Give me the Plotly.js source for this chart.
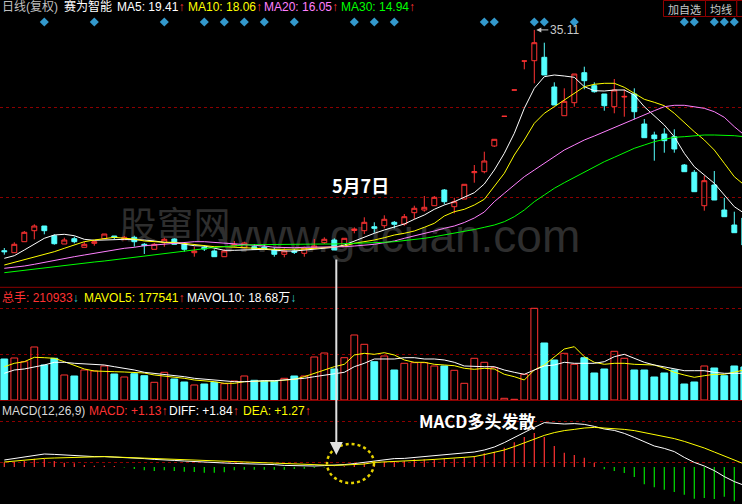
<!DOCTYPE html>
<html>
<head>
<meta charset="utf-8">
<script src="https://cdn.plot.ly/plotly-3.0.1.min.js"></script>
<style>
  html, body { margin: 0; padding: 0; background: #000; }
  #chart { width: 742px; height: 504px; }
</style>
</head>
<body>
<div id="chart"></div>
<script>
// 日K（复权），逐日：开、高、低、收
const opens = [13.03, 12.83, 13.93, 15.03, 15.5, 14.53, 13.7, 14.23, 13.37, 13.77,
  14.23, 14.5, 14.13, 14.37, 13.67, 13.17, 13.83, 14.2, 13.67, 12.83,
  13.37, 13.0, 12.43, 13.5, 13.33, 13.43, 13.4, 13.1, 12.67, 13.0,
  12.77, 13.3, 13.83, 14.1, 13.43, 15.05, 15.03, 15.43, 15.53, 15.87,
  15.7, 16.83, 17.1, 17.53, 19.1, 17.43, 18.2, 20.83, 20.93, 23.5,
  26.47, 29.1, 32.0, 32.03, 32.37, 29.4, 26.53, 27.83, 30.83, 29.53,
  28.7, 27.43, 28.4, 28.7, 25.7, 24.6, 24.7, 24.43, 21.6, 20.87,
  17.53, 19.6, 17.1, 15.6, 16.3];
const highs = [13.3, 13.87, 15.0, 15.67, 15.5, 14.67, 14.33, 14.43, 13.93, 14.0,
  14.7, 14.5, 14.5, 14.53, 13.8, 13.8, 14.33, 14.27, 13.77, 13.43,
  13.6, 13.17, 13.17, 14.0, 13.93, 13.7, 13.67, 13.37, 13.27, 13.2,
  13.43, 14.2, 14.37, 14.27, 14.27, 15.37, 16.37, 15.87, 16.57, 16.0,
  16.7, 17.53, 18.5, 18.5, 19.2, 18.33, 19.67, 21.6, 22.93, 24.2,
  26.47, 29.1, 32.0, 35.11, 33.83, 29.87, 29.27, 30.7, 31.43, 29.87,
  28.7, 30.2, 29.17, 29.27, 26.2, 24.93, 25.27, 25.17, 21.7, 21.1,
  20.5, 21.0, 18.33, 16.93, 16.5];
const lows = [12.63, 12.83, 13.93, 14.17, 14.67, 13.63, 13.7, 13.77, 13.37, 13.53,
  14.23, 14.13, 14.13, 13.43, 12.7, 13.17, 13.43, 13.67, 12.93, 12.43,
  13.0, 12.43, 12.43, 13.4, 13.27, 13.1, 13.2, 12.43, 12.37, 12.7,
  12.43, 13.27, 13.7, 13.1, 13.43, 14.77, 14.7, 14.83, 15.27, 15.27,
  15.53, 16.2, 16.93, 17.53, 17.67, 16.77, 18.2, 19.83, 20.77, 23.4,
  26.47, 29.1, 31.17, 29.77, 30.6, 27.6, 26.53, 27.43, 29.17, 28.83,
  27.03, 26.77, 26.43, 26.17, 24.33, 22.03, 22.83, 22.83, 20.93, 18.93,
  17.03, 18.1, 16.43, 14.83, 13.3];
const closes = [12.93, 13.67, 14.87, 15.5, 15.03, 13.73, 14.1, 13.93, 13.67, 13.93,
  14.7, 14.37, 14.37, 13.93, 13.53, 13.67, 14.17, 13.67, 13.17, 13.0,
  13.2, 12.43, 13.0, 13.65, 13.8, 13.17, 13.2, 12.67, 13.0, 12.87,
  13.3, 13.5, 14.17, 13.1, 14.27, 15.2, 15.87, 15.27, 16.17, 15.67,
  16.43, 17.27, 17.37, 18.37, 17.93, 17.93, 19.67, 20.93, 22.0, 24.17,
  26.47, 29.1, 32.0, 33.83, 30.6, 27.6, 27.97, 30.7, 30.03, 28.93,
  27.53, 29.1, 28.46, 26.93, 24.33, 24.23, 24.03, 23.2, 20.93, 18.93,
  20.03, 18.1, 16.43, 14.83, 13.6];

// 均线
const ma5 = [12.27, 12.53, 13.1, 13.67, 14.27, 14.6, 14.67, 14.53, 14.17, 14.07,
  14.07, 14.13, 14.17, 14.17, 14.1, 14.0, 13.87, 13.83, 13.67, 13.53,
  13.5, 13.27, 13.07, 13.07, 13.1, 13.1, 13.17, 13.1, 13.0, 13.0,
  13.1, 13.17, 13.27, 13.37, 13.6, 14.0, 14.43, 14.77, 15.1, 15.37,
  15.7, 16.17, 16.6, 17.17, 17.6, 17.93, 18.37, 18.83, 19.7, 21.1,
  22.77, 24.77, 27.27, 29.27, 30.43, 30.6, 30.5, 30.37, 29.43, 29.03,
  29.0, 29.1, 29.1, 28.6, 27.43, 26.5, 25.6, 24.43, 22.77, 21.43,
  20.6, 19.77, 18.6, 17.43, 16.77];
const ma10 = [11.6, 11.87, 12.1, 12.37, 12.67, 12.93, 13.27, 13.6, 13.93, 14.1,
  14.27, 14.37, 14.27, 14.2, 14.0, 13.93, 13.87, 13.87, 13.77, 13.67,
  13.5, 13.43, 13.43, 13.37, 13.35, 13.27, 13.2, 13.17, 13.17, 13.17,
  13.2, 13.27, 13.37, 13.43, 13.5, 13.77, 13.93, 14.1, 14.33, 14.6,
  14.77, 15.0, 15.37, 15.77, 16.5, 16.93, 17.17, 17.6, 18.17, 19.43,
  20.77, 22.6, 24.1, 25.77, 26.77, 27.43, 28.1, 28.77, 29.43, 29.67,
  29.77, 29.77, 29.37, 28.77, 28.17, 27.87, 27.53, 26.77, 25.83, 24.93,
  24.1, 23.1, 21.77, 20.43, 19.6];
const ma20 = [11.27, 11.37, 11.5, 11.67, 11.87, 12.1, 12.27, 12.43, 12.6, 12.77,
  12.93, 13.1, 13.27, 13.37, 13.53, 13.6, 13.7, 13.77, 13.87, 13.93,
  13.93, 13.87, 13.77, 13.7, 13.67, 13.6, 13.5, 13.37, 13.33, 13.33,
  13.37, 13.37, 13.37, 13.37, 13.43, 13.5, 13.57, 13.67, 13.83, 14.0,
  14.27, 14.5, 14.7, 15.0, 15.27, 15.5, 15.85, 16.3, 16.9, 17.93,
  18.77, 19.6, 20.43, 21.1, 21.77, 22.43, 23.1, 23.6, 24.1, 24.5,
  24.93, 25.37, 25.77, 26.17, 26.6, 27.03, 27.43, 27.57, 27.57, 27.43,
  27.27, 26.93, 26.37, 25.43, 24.6];
const ma30 = [10.83, 10.95, 11.07, 11.2, 11.33, 11.47, 11.6, 11.7, 11.8, 11.9,
  12.0, 12.13, 12.25, 12.37, 12.5, 12.63, 12.77, 12.9, 13.0, 13.1,
  13.23, 13.35, 13.45, 13.53, 13.6, 13.63, 13.65, 13.67, 13.68, 13.69,
  13.7, 13.7, 13.7, 13.7, 13.72, 13.75, 13.78, 13.82, 13.87, 13.93,
  14.03, 14.17, 14.27, 14.43, 14.6, 14.77, 14.93, 15.15, 15.37, 15.6,
  15.93, 16.43, 17.1, 17.93, 18.6, 19.27, 19.83, 20.37, 20.93, 21.43,
  21.93, 22.37, 22.83, 23.27, 23.6, 23.93, 24.17, 24.37, 24.43, 24.53,
  24.6, 24.6, 24.6, 24.53, 24.43];

// 成交量（万手）及均量
const volumes = [20.5, 21, 19.15, 26.5, 17.5, 20.85, 12.5, 12, 15, 14.5,
  17, 13, 11.5, 13.15, 12.15, 8.85, 13.85, 10.5, 9, 7.5,
  8, 8.85, 8.15, 9.5, 12, 9.85, 9.5, 9.5, 10.85, 12,
  12, 21.5, 23.5, 15.5, 21.15, 32.5, 27.85, 19.15, 22, 15,
  18.35, 18.65, 18.65, 17, 17, 14.85, 8.35, 20.85, 18.85, 16.15,
  0.85, 0.35, 12.85, 45.85, 28.5, 20, 23.35, 17.85, 21.15, 13.5,
  15.5, 24.35, 20.85, 15, 15, 11.5, 13.5, 15, 8, 9,
  17, 16, 12.15, 17, 16.5];
const mavol5 = [16.65, 18.35, 19.15, 21.35, 21.15, 20.85, 19.15, 17.5, 15.5, 14.5,
  14.15, 14.15, 14.0, 13.85, 13.5, 12.5, 12.0, 11.65, 10.85, 10.0,
  9.65, 9.15, 8.35, 8.35, 9.15, 9.5, 9.5, 9.5, 10.0, 10.35,
  11.65, 13.35, 15.0, 16.65, 17.85, 22.5, 23.35, 22.85, 23.65, 22.5,
  20.0, 18.85, 18.85, 17.85, 17.5, 17.15, 15.85, 15.35, 15.85, 15.5,
  12.85, 11.65, 10.0, 15.0, 17.5, 21.65, 25.5, 26.65, 21.65, 18.85,
  17.85, 18.35, 18.35, 17.85, 17.85, 17.5, 15.85, 13.85, 12.5, 11.35,
  12.15, 12.85, 12.85, 13.85, 15.0];
const mavol10 = [13.35, 15.0, 15.5, 16.35, 17.5, 18.85, 18.85, 18.35, 18.15, 17.85,
  17.5, 16.65, 15.85, 15.0, 13.85, 13.35, 12.85, 12.5, 11.65, 10.85,
  10.35, 10.0, 9.5, 9.15, 9.15, 9.5, 9.65, 9.65, 10.0, 10.5,
  10.85, 11.65, 12.5, 13.35, 13.85, 16.65, 18.35, 20.5, 20.5, 20.5,
  21.15, 21.15, 20.5, 20.5, 20.0, 18.85, 17.0, 16.65, 16.65, 16.65,
  15.0, 13.85, 12.85, 15.0, 17.0, 17.5, 18.85, 18.35, 18.35, 18.35,
  19.15, 21.65, 22.85, 20.85, 18.85, 17.5, 16.65, 15.85, 14.65, 14.65,
  14.65, 13.85, 13.35, 13.35, 13.35];

// MACD(12,26,9)
const diff = [0.35, 0.42, 0.48, 0.58, 0.65, 0.63, 0.6, 0.57, 0.55, 0.52,
  0.52, 0.5, 0.48, 0.45, 0.42, 0.38, 0.37, 0.33, 0.3, 0.27,
  0.23, 0.22, 0.2, 0.18, 0.17, 0.15, 0.13, 0.12, 0.08, 0.07,
  0.05, 0.05, 0.07, 0.08, 0.12, 0.17, 0.23, 0.3, 0.38, 0.42,
  0.43, 0.48, 0.52, 0.58, 0.63, 0.67, 0.7, 0.75, 0.85, 1.0,
  1.22, 1.48, 1.75, 1.98, 2.22, 2.18, 2.15, 2.17, 2.13, 2.03,
  1.9, 1.83, 1.68, 1.48, 1.25, 1.05, 0.93, 0.77, 0.48, 0.23,
  0.05, -0.18, -0.48, -0.73, -0.92];
const dea = [0.25, 0.3, 0.35, 0.4, 0.43, 0.45, 0.47, 0.48, 0.5, 0.52,
  0.52, 0.5, 0.48, 0.47, 0.45, 0.43, 0.42, 0.4, 0.37, 0.35,
  0.33, 0.3, 0.28, 0.25, 0.23, 0.22, 0.2, 0.18, 0.17, 0.15,
  0.12, 0.1, 0.08, 0.08, 0.1, 0.12, 0.15, 0.23, 0.25, 0.27,
  0.28, 0.32, 0.35, 0.38, 0.42, 0.45, 0.48, 0.52, 0.62, 0.72,
  0.85, 1.02, 1.22, 1.42, 1.58, 1.72, 1.82, 1.88, 1.95, 1.98,
  1.95, 1.92, 1.88, 1.82, 1.72, 1.62, 1.52, 1.42, 1.28, 1.12,
  0.95, 0.75, 0.55, 0.32, 0.15];
const macd = [0.235, 0.265, 0.3, 0.415, 0.415, 0.3, 0.215, 0.185, 0.1, 0.065,
  0.065, 0.05, -0.025, -0.1, -0.165, -0.2, -0.165, -0.2, -0.235, -0.25,
  -0.285, -0.285, -0.265, -0.165, -0.135, -0.135, -0.135, -0.135, -0.135, -0.1,
  -0.085, -0.05, -0.025, 0.015, 0.035, 0.1, 0.185, 0.3, 0.265, 0.265,
  0.3, 0.385, 0.385, 0.4, 0.415, 0.415, 0.465, 0.55, 0.685, 0.765,
  0.965, 1.235, 1.5, 1.7, 1.5, 1.05, 0.715, 0.6, 0.465, 0.215,
  -0.115, -0.2, -0.3, -0.5, -0.865, -1.015, -1.135, -1.25, -1.385, -1.585,
  -1.55, -1.6, -1.485, -1.715, -1.75];

// 信息地雷所在的交易日
const infoDays = [4, 9, 16, 20, 22, 24, 26, 29, 35, 37, 39, 48, 49, 53, 54, 57, 68, 69, 71, 72, 73];
const markDay = 33; // 5月7日

const W = 742, H = 504;
const px = x => x / W;
const py = y => 1 - y / H;

const RED = '#ff3232';
const CYAN = '#54ffff';
const GRID = '#8b0000';
const FONT = 'Liberation Sans, Arial, Noto Sans CJK SC, sans-serif';
const CJK = 'Noto Sans CJK SC, sans-serif';

const idx = closes.map((_, i) => i);
const isUp = closes.map((c, i) => c > opens[i] || (c === opens[i] && i > 0 && c >= closes[i - 1]));
const peak = highs.indexOf(Math.max(...highs));

// 1. K线 + 均线
const candles = {
  type: 'candlestick', x: idx, open: opens, high: highs, low: lows, close: closes,
  xaxis: 'x', yaxis: 'y',
  increasing: { line: { color: RED, width: 1 }, fillcolor: 'rgba(0,0,0,0)' },
  decreasing: { line: { color: CYAN, width: 1 }, fillcolor: CYAN },
  hoverinfo: 'skip'
};
const maLine = (y, color) => ({
  type: 'scatter', mode: 'lines', x: idx, y: y, xaxis: 'x', yaxis: 'y',
  line: { color: color, width: 1 }, hoverinfo: 'skip'
});
const info = {
  type: 'scatter', mode: 'markers', x: infoDays, y: infoDays.map(() => 35.9),
  xaxis: 'x', yaxis: 'y',
  marker: { symbol: 'diamond', size: 7, color: '#3399cc' }, hoverinfo: 'skip'
};

// 2. 成交量
const volBars = {
  type: 'bar', x: idx, y: volumes, xaxis: 'x', yaxis: 'y2', width: 0.68,
  marker: {
    color: isUp.map(u => u ? 'rgba(0,0,0,0)' : CYAN),
    line: { color: isUp.map(u => u ? RED : CYAN), width: 1 }
  },
  hoverinfo: 'skip'
};
const volLine = (y, color) => ({
  type: 'scatter', mode: 'lines', x: idx, y: y, xaxis: 'x', yaxis: 'y2',
  line: { color: color, width: 1 }, hoverinfo: 'skip'
});

// 3. MACD
const macdBars = {
  type: 'bar', x: idx, y: macd, xaxis: 'x', yaxis: 'y3', width: 0.12,
  marker: { color: macd.map(v => v >= 0 ? RED : '#00e000'), line: { width: 0 } },
  hoverinfo: 'skip'
};
const macdLine = (y, color) => ({
  type: 'scatter', mode: 'lines', x: idx, y: y, xaxis: 'x', yaxis: 'y3',
  line: { color: color, width: 1 }, hoverinfo: 'skip'
});

const txt = (text, x, y, color, size, extra) => Object.assign({
  xref: 'paper', yref: 'paper', x: px(x), y: py(y),
  xanchor: 'left', yanchor: 'middle', showarrow: false,
  text: text, font: { color: color, size: size || 12, family: FONT }
}, extra || {});
const up = '<span style="color:#ff3232">↑</span>';
const down = '<span style="color:#33cccc">↓</span>';

const annotations = [
  txt('日线(复权)', 0, 7, '#c0c0c0'),
  txt('赛为智能', 62, 7, '#ffffff'),
  txt('MA5: 19.41' + up, 115, 7, '#ffffff'),
  txt('MA10: 18.06' + up, 186, 7, '#ffff00'),
  txt('MA20: 16.05' + up, 262, 7, '#ff80ff'),
  txt('MA30: 14.94' + up, 339, 7, '#00ff00'),

  txt('总手: 210933' + down, 0, 298, RED),
  txt('MAVOL5: 177541' + up, 82, 298, '#ffff00'),
  txt('MAVOL10: 18.68万' + down, 185, 298, '#ffffff'),

  txt('MACD(12,26,9)', 0, 411, '#d8d8d8'),
  txt('MACD: +1.13' + up, 87, 411, RED),
  txt('DIFF: +1.84' + up, 167, 411, '#ffffff'),
  txt('DEA: +1.27' + up, 241, 411, '#ffff00'),

  // 右上角按钮文字
  txt('加自选', 684.5, 9, '#c8c8c8', 11, { xanchor: 'center', font: { color: '#c8c8c8', size: 11, family: CJK } }),
  txt('均线', 721, 9, '#c8c8c8', 11, { xanchor: 'center', font: { color: '#c8c8c8', size: 11, family: CJK } }),

  txt('<b>5月7日</b>', 360, 185, '#ffffff', 18, { xanchor: 'center', font: { color: '#ffffff', size: 18, family: CJK } }),
  txt('<b>MACD多头发散</b>', 477, 420, '#ffffff', 17, { xanchor: 'center', font: { color: '#ffffff', size: 17, family: CJK } }),

  // 最高价标注
  {
    xref: 'x', yref: 'y', x: peak, y: highs[peak], text: highs[peak].toFixed(2),
    showarrow: true, arrowhead: 2, arrowsize: 1, arrowwidth: 1, arrowcolor: '#c8c8c8',
    ax: 14, ay: 0, xanchor: 'left', standoff: 2,
    font: { color: '#c8c8c8', size: 12, family: FONT }
  },
  // 5月7日 指向 MACD 的箭头
  {
    xref: 'x', yref: 'paper', x: markDay, xshift: 2, y: py(455), text: '',
    showarrow: true, arrowhead: 2, arrowsize: 1.3, arrowwidth: 2, arrowcolor: '#e0e0e0',
    ax: 0, ay: -197
  }
];

const box = (x0, x1) => ({
  type: 'rect', xref: 'paper', yref: 'paper', x0: px(x0), x1: px(x1), y0: py(16.5), y1: py(0.5),
  line: { color: '#900000', width: 1 }, fillcolor: '#000'
});

const shapes = [
  { type: 'line', xref: 'paper', yref: 'paper', x0: 0, x1: 1, y0: py(287.3), y1: py(287.3), line: { color: GRID, width: 1 } },
  { type: 'line', xref: 'paper', yref: 'paper', x0: 0, x1: 1, y0: py(400.5), y1: py(400.5), line: { color: GRID, width: 1 } },
  // 水印
  {
    type: 'rect', layer: 'below', xref: 'paper', yref: 'paper',
    x0: px(110), x1: px(240), y0: py(250), y1: py(208), line: { width: 0 },
    label: { text: '股窜网', font: { color: '#2e2e2e', size: 37, family: CJK } }
  },
  {
    type: 'rect', layer: 'below', xref: 'paper', yref: 'paper',
    x0: px(240), x1: px(560), y0: py(252), y1: py(212), line: { width: 0 },
    label: { text: 'www.gucuan.com', font: { color: '#2e2e2e', size: 46, family: FONT } }
  },
  // 金叉圈
  {
    type: 'circle', xref: 'paper', yref: 'paper',
    x0: px(327), x1: px(374), y0: py(483), y1: py(444),
    line: { color: '#e6d200', width: 2.5, dash: 'dot' }
  },
  box(663.5, 705.5),
  box(705.5, 736.5),
  box(736.8, 780)
];

const hidden = { showticklabels: false, zeroline: false, showline: false, fixedrange: true };
const layout = {
  width: W, height: H,
  margin: { l: 0, r: 0, t: 0, b: 0, pad: 0 },
  paper_bgcolor: '#000', plot_bgcolor: '#000',
  showlegend: false,
  barmode: 'overlay',
  xaxis: Object.assign({ range: [-0.43, 73.77], showgrid: false, rangeslider: { visible: false } }, hidden),
  yaxis: Object.assign({ domain: [py(287), py(17)], range: [9.4, 36.4], showgrid: true,
    gridcolor: GRID, griddash: 'dot', gridwidth: 1, tick0: 18.4, dtick: 9 }, hidden),
  yaxis2: Object.assign({ domain: [py(400), py(287.3)], range: [0, 56.35], showgrid: true,
    gridcolor: GRID, griddash: 'dot', gridwidth: 1, tick0: 0, dtick: 23 }, hidden),
  yaxis3: Object.assign({ domain: [0, py(400.5)], range: [-1.85, 3.325], showgrid: true,
    gridcolor: GRID, griddash: 'dot', gridwidth: 1, tick0: 0.235, dtick: 2.065 }, hidden),
  annotations: annotations,
  shapes: shapes
};

Plotly.newPlot('chart', [
  candles,
  maLine(ma5, '#ffffff'), maLine(ma10, '#ffff00'), maLine(ma20, '#ff80ff'), maLine(ma30, '#00ff00'),
  info,
  volBars, volLine(mavol5, '#ffff00'), volLine(mavol10, '#ffffff'),
  macdBars, macdLine(diff, '#ffffff'), macdLine(dea, '#ffff00')
], layout, { staticPlot: true, displayModeBar: false });
</script>
</body>
</html>
